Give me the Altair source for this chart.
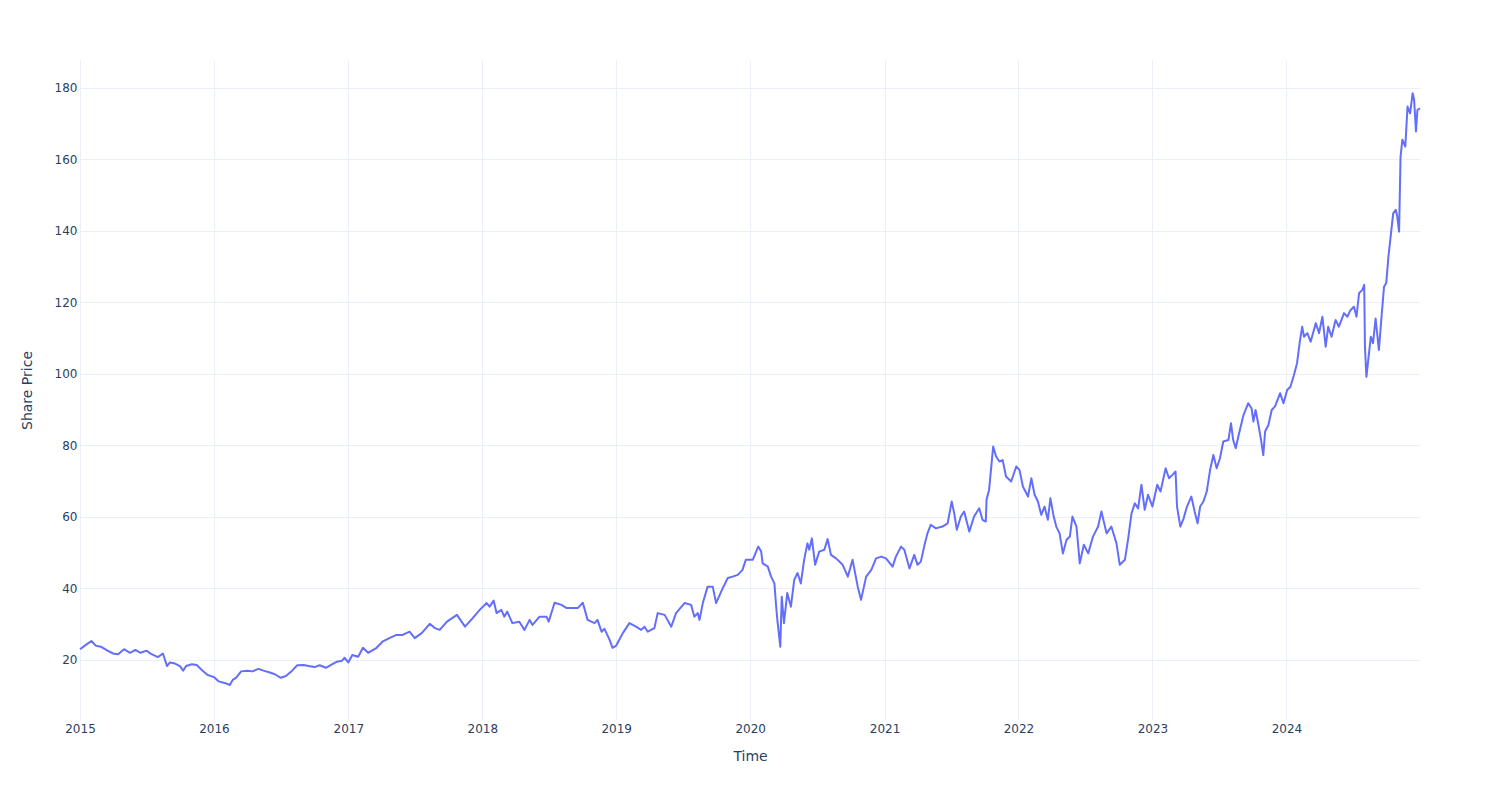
import altair as alt
import pandas as pd

# Share price (approximate, by date)
dates_2015 = ["2015-01-01", "2015-01-17", "2015-02-01", "2015-02-13", "2015-03-01", "2015-03-17",
              "2015-04-01", "2015-04-15", "2015-05-01", "2015-05-17", "2015-06-01", "2015-06-15",
              "2015-07-01", "2015-07-15", "2015-08-01", "2015-08-15", "2015-08-26", "2015-09-03",
              "2015-09-17", "2015-10-01", "2015-10-09", "2015-10-17", "2015-11-02", "2015-11-15",
              "2015-12-01", "2015-12-15"]
price_2015 = [23.0, 24.2, 25.3, 24.0, 23.6, 22.6, 21.8, 21.6, 23.0, 22.0, 22.8, 22.0,
              22.6, 21.6, 20.8, 21.8, 18.3, 19.3, 19.0, 18.2, 17.0, 18.3, 18.8, 18.6,
              17.0, 15.8]

dates_2016 = ["2016-01-01", "2016-01-14", "2016-02-01", "2016-02-13", "2016-02-22", "2016-03-01",
              "2016-03-15", "2016-04-01", "2016-04-15", "2016-05-01", "2016-05-15", "2016-06-01",
              "2016-06-15", "2016-07-01", "2016-07-15", "2016-08-01", "2016-08-15", "2016-09-01",
              "2016-09-15", "2016-10-01", "2016-10-15", "2016-11-01", "2016-11-15", "2016-12-01",
              "2016-12-15", "2016-12-22"]
price_2016 = [15.2, 14.0, 13.5, 13.0, 14.5, 15.0, 16.8, 17.0, 16.8, 17.5, 17.0, 16.5,
              16.0, 15.0, 15.5, 17.0, 18.5, 18.6, 18.3, 18.0, 18.5, 17.8, 18.6, 19.5,
              19.8, 20.6]

dates_2017 = ["2017-01-01", "2017-01-12", "2017-01-28", "2017-02-10", "2017-02-24", "2017-03-19",
              "2017-04-04", "2017-04-23", "2017-05-12", "2017-05-29", "2017-06-17", "2017-07-01",
              "2017-07-20", "2017-08-11", "2017-08-25", "2017-09-07", "2017-09-27", "2017-10-24",
              "2017-11-15", "2017-12-06", "2017-12-25"]
price_2017 = [19.3, 21.4, 20.9, 23.4, 22.0, 23.4, 25.1, 26.1, 27.0, 27.0, 27.9, 26.1,
              27.5, 30.1, 28.9, 28.4, 30.7, 32.6, 29.3, 31.7, 34.0]

dates_2018 = ["2018-01-13", "2018-01-21", "2018-02-01", "2018-02-09", "2018-02-22", "2018-03-02",
              "2018-03-10", "2018-03-24", "2018-04-12", "2018-04-26", "2018-05-10", "2018-05-18",
              "2018-06-06", "2018-06-25", "2018-07-01", "2018-07-17", "2018-08-05", "2018-08-19",
              "2018-09-04", "2018-09-18", "2018-10-02", "2018-10-15", "2018-11-03", "2018-11-11",
              "2018-11-22", "2018-11-30", "2018-12-14", "2018-12-22"]
price_2018 = [35.9, 34.9, 36.6, 33.1, 34.0, 32.1, 33.5, 30.3, 30.7, 28.4, 31.2, 29.8,
              32.1, 32.1, 30.7, 36.0, 35.4, 34.5, 34.5, 34.5, 36.0, 31.2, 30.3, 31.2,
              27.9, 28.7, 25.6, 23.4]

dates_2019 = ["2019-01-01", "2019-01-06", "2019-01-19", "2019-02-06", "2019-02-24", "2019-03-10",
              "2019-03-19", "2019-03-28", "2019-04-15", "2019-04-24", "2019-05-13", "2019-05-31",
              "2019-06-13", "2019-07-06", "2019-07-24", "2019-08-02", "2019-08-11", "2019-08-16",
              "2019-08-25", "2019-09-07", "2019-09-21", "2019-09-30", "2019-10-18", "2019-11-01",
              "2019-11-14", "2019-11-28", "2019-12-11", "2019-12-20"]
price_2019 = [24.0, 25.0, 27.5, 30.3, 29.3, 28.4, 29.3, 27.9, 28.9, 33.1, 32.6, 29.3,
              33.1, 35.9, 35.4, 32.1, 33.1, 31.2, 35.9, 40.5, 40.5, 35.9, 40.0, 42.9,
              43.3, 43.8, 45.2, 48.0]

dates_2020 = ["2020-01-08", "2020-01-23", "2020-01-31", "2020-02-04", "2020-02-18", "2020-02-27",
              "2020-03-07", "2020-03-11", "2020-03-15", "2020-03-23", "2020-03-27", "2020-04-02",
              "2020-04-11", "2020-04-21", "2020-04-30", "2020-05-09", "2020-05-18", "2020-05-27",
              "2020-06-05", "2020-06-10", "2020-06-17", "2020-06-26", "2020-07-07", "2020-07-21",
              "2020-07-30", "2020-08-08", "2020-08-22", "2020-09-09", "2020-09-23", "2020-10-06",
              "2020-10-20", "2020-10-29", "2020-11-12", "2020-11-26", "2020-12-09", "2020-12-23"]
price_2020 = [48.0, 51.7, 50.3, 47.0, 46.1, 43.3, 41.4, 35.9, 31.2, 23.7, 37.7, 30.3,
              38.7, 34.9, 42.4, 44.3, 41.4, 48.0, 52.6, 50.8, 54.0, 46.6, 50.3, 50.8,
              53.8, 49.4, 48.4, 46.6, 43.3, 48.0, 40.5, 36.8, 43.3, 45.2, 48.4, 48.9]

dates_2021 = ["2021-01-05", "2021-01-23", "2021-02-01", "2021-02-15", "2021-02-24", "2021-03-10",
              "2021-03-23", "2021-04-01", "2021-04-10", "2021-04-19", "2021-04-28", "2021-05-07",
              "2021-05-21", "2021-06-08", "2021-06-22", "2021-07-03", "2021-07-10", "2021-07-17",
              "2021-07-28", "2021-08-06", "2021-08-20", "2021-09-02", "2021-09-16", "2021-09-25",
              "2021-10-04", "2021-10-06", "2021-10-13", "2021-10-18", "2021-10-24", "2021-11-01",
              "2021-11-10", "2021-11-19", "2021-11-28", "2021-12-12", "2021-12-26"]
price_2021 = [48.4, 46.1, 48.9, 51.7, 50.8, 45.6, 49.4, 46.6, 47.5, 51.7, 55.4, 57.8,
              56.8, 57.3, 58.2, 64.3, 61.0, 56.4, 60.1, 61.5, 55.9, 60.1, 62.4, 59.2,
              58.7, 64.8, 67.6, 73.1, 79.7, 76.9, 75.5, 75.9, 71.3, 69.9, 74.1]

dates_2022 = ["2022-01-04", "2022-01-13", "2022-01-27", "2022-02-05", "2022-02-14", "2022-02-23",
              "2022-03-04", "2022-03-13", "2022-03-22", "2022-03-29", "2022-04-07", "2022-04-14",
              "2022-04-23", "2022-05-02", "2022-05-12", "2022-05-21", "2022-05-28", "2022-06-08",
              "2022-06-17", "2022-06-28", "2022-07-10", "2022-07-23", "2022-08-06", "2022-08-15",
              "2022-08-29", "2022-09-11", "2022-09-25", "2022-10-04", "2022-10-18", "2022-10-27",
              "2022-11-05", "2022-11-14", "2022-11-23", "2022-12-02", "2022-12-11", "2022-12-20"]
price_2022 = [73.1, 68.5, 65.7, 70.8, 66.2, 64.3, 60.6, 62.9, 59.2, 65.2, 60.1, 57.3,
              55.4, 49.8, 53.6, 54.5, 60.1, 57.3, 47.0, 52.2, 49.8, 54.5, 57.3, 61.5,
              55.4, 57.3, 52.6, 46.6, 48.0, 54.0, 61.0, 63.8, 62.4, 69.0, 62.0, 66.2]

dates_2023 = ["2023-01-01", "2023-01-14", "2023-01-23", "2023-02-06", "2023-02-15", "2023-02-24",
              "2023-03-05", "2023-03-09", "2023-03-18", "2023-03-27", "2023-04-05", "2023-04-17",
              "2023-04-26", "2023-05-04", "2023-05-11", "2023-05-20", "2023-05-29", "2023-06-07",
              "2023-06-16", "2023-06-25", "2023-07-04", "2023-07-13", "2023-07-27", "2023-08-03",
              "2023-08-09", "2023-08-16", "2023-08-23", "2023-09-06", "2023-09-19", "2023-09-28",
              "2023-10-03", "2023-10-09", "2023-10-16", "2023-10-24", "2023-10-30", "2023-11-04",
              "2023-11-13", "2023-11-22", "2023-12-01", "2023-12-15", "2023-12-24"]
price_2023 = [62.9, 69.0, 67.1, 73.6, 70.8, 71.7, 72.7, 62.9, 57.3, 59.6, 62.9, 65.7,
              61.5, 58.2, 62.9, 64.3, 67.1, 73.1, 77.3, 73.6, 76.4, 81.1, 81.5, 86.2,
              81.5, 79.2, 82.5, 88.5, 91.8, 90.4, 86.7, 89.9, 86.2, 81.5, 77.3, 83.9,
              85.7, 89.9, 90.9, 94.6, 91.8]

dates_2024 = ["2024-01-03", "2024-01-12", "2024-01-21", "2024-01-30", "2024-02-06", "2024-02-13",
              "2024-02-18", "2024-02-27", "2024-03-07", "2024-03-21", "2024-03-30", "2024-04-08",
              "2024-04-17", "2024-04-24", "2024-05-03", "2024-05-14", "2024-05-23", "2024-06-06",
              "2024-06-15", "2024-06-24", "2024-07-03", "2024-07-10", "2024-07-17", "2024-07-26",
              "2024-07-31", "2024-08-02", "2024-08-06", "2024-08-11", "2024-08-18", "2024-08-24",
              "2024-08-31", "2024-09-09", "2024-09-17", "2024-09-23", "2024-09-29", "2024-10-05",
              "2024-10-11", "2024-10-18", "2024-10-25", "2024-10-29", "2024-11-03", "2024-11-07",
              "2024-11-12", "2024-11-20", "2024-11-26", "2024-12-03", "2024-12-10", "2024-12-14",
              "2024-12-19", "2024-12-23", "2024-12-30"]
price_2024 = [95.5, 96.4, 99.5, 103.0, 108.6, 113.2, 110.4, 111.4, 109.0, 114.2, 111.4, 116.0,
              107.6, 113.2, 110.4, 115.1, 113.2, 117.0, 116.0, 117.9, 118.8, 116.0, 122.6, 123.5,
              124.9, 107.6, 99.2, 103.9, 110.4, 108.6, 115.5, 106.7, 117.0, 124.4, 125.4, 132.8,
              138.4, 144.9, 145.9, 144.0, 139.8, 160.8, 165.5, 163.6, 174.8, 172.9, 178.5, 176.6,
              167.8, 173.8, 174.3]

y_ticks = [20, 40, 60, 80, 100, 120, 140, 160, 180]
x_years = [2015, 2016, 2017, 2018, 2019, 2020, 2021, 2022, 2023, 2024]

all_dates = (dates_2015 + dates_2016 + dates_2017 + dates_2018 + dates_2019 +
             dates_2020 + dates_2021 + dates_2022 + dates_2023 + dates_2024)
all_prices = (price_2015 + price_2016 + price_2017 + price_2018 + price_2019 +
              price_2020 + price_2021 + price_2022 + price_2023 + price_2024)
df = pd.DataFrame({"Time": all_dates, "Share Price": all_prices})

FONT = "DejaVu Sans"
TEXT = "#2a3f5f"
GRID = "#EBF0F8"

x_axis = alt.Axis(
    values=[alt.DateTime(year=y, month=1, date=1, utc=True) for y in x_years],
    format="%Y", formatType="utc", grid=True, gridColor=GRID, gridWidth=1,
    ticks=False, domain=False, labelFont=FONT, labelFontSize=12, labelColor=TEXT,
    labelPadding=3, labelFlush=False,
    title="Time", titleFont=FONT, titleFontSize=14, titleColor=TEXT,
    titleFontWeight="normal", titlePadding=15,
)
y_axis = alt.Axis(
    values=y_ticks, grid=True, gridColor=GRID, gridWidth=1, ticks=False, domain=False,
    labelFont=FONT, labelFontSize=12, labelColor=TEXT, labelPadding=3,
    title="Share Price", titleFont=FONT, titleFontSize=14, titleColor=TEXT,
    titleFontWeight="normal", titlePadding=20,
)

chart = (
    alt.Chart(df)
    .mark_line(color="#636efa", strokeWidth=2, strokeJoin="round")
    .encode(
        x=alt.X("Time:T", axis=x_axis,
                scale=alt.Scale(type="utc", nice=False,
                                domain=[alt.DateTime(year=2015, month=1, date=1, utc=True),
                                        alt.DateTime(year=2024, month=12, date=30, utc=True)])),
        y=alt.Y("Share Price:Q", axis=y_axis,
                scale=alt.Scale(domain=[3.2, 187.8], nice=False, zero=False)),
    )
    .properties(
        width=1340, height=660,
        autosize=alt.AutoSizeParams(type="none"),
        padding={"left": 80, "top": 60, "right": 80, "bottom": 80},
        background="white",
    )
    .configure_view(stroke=None)
)

chart.save("out.html", embed_options={"renderer": "svg", "actions": False})
